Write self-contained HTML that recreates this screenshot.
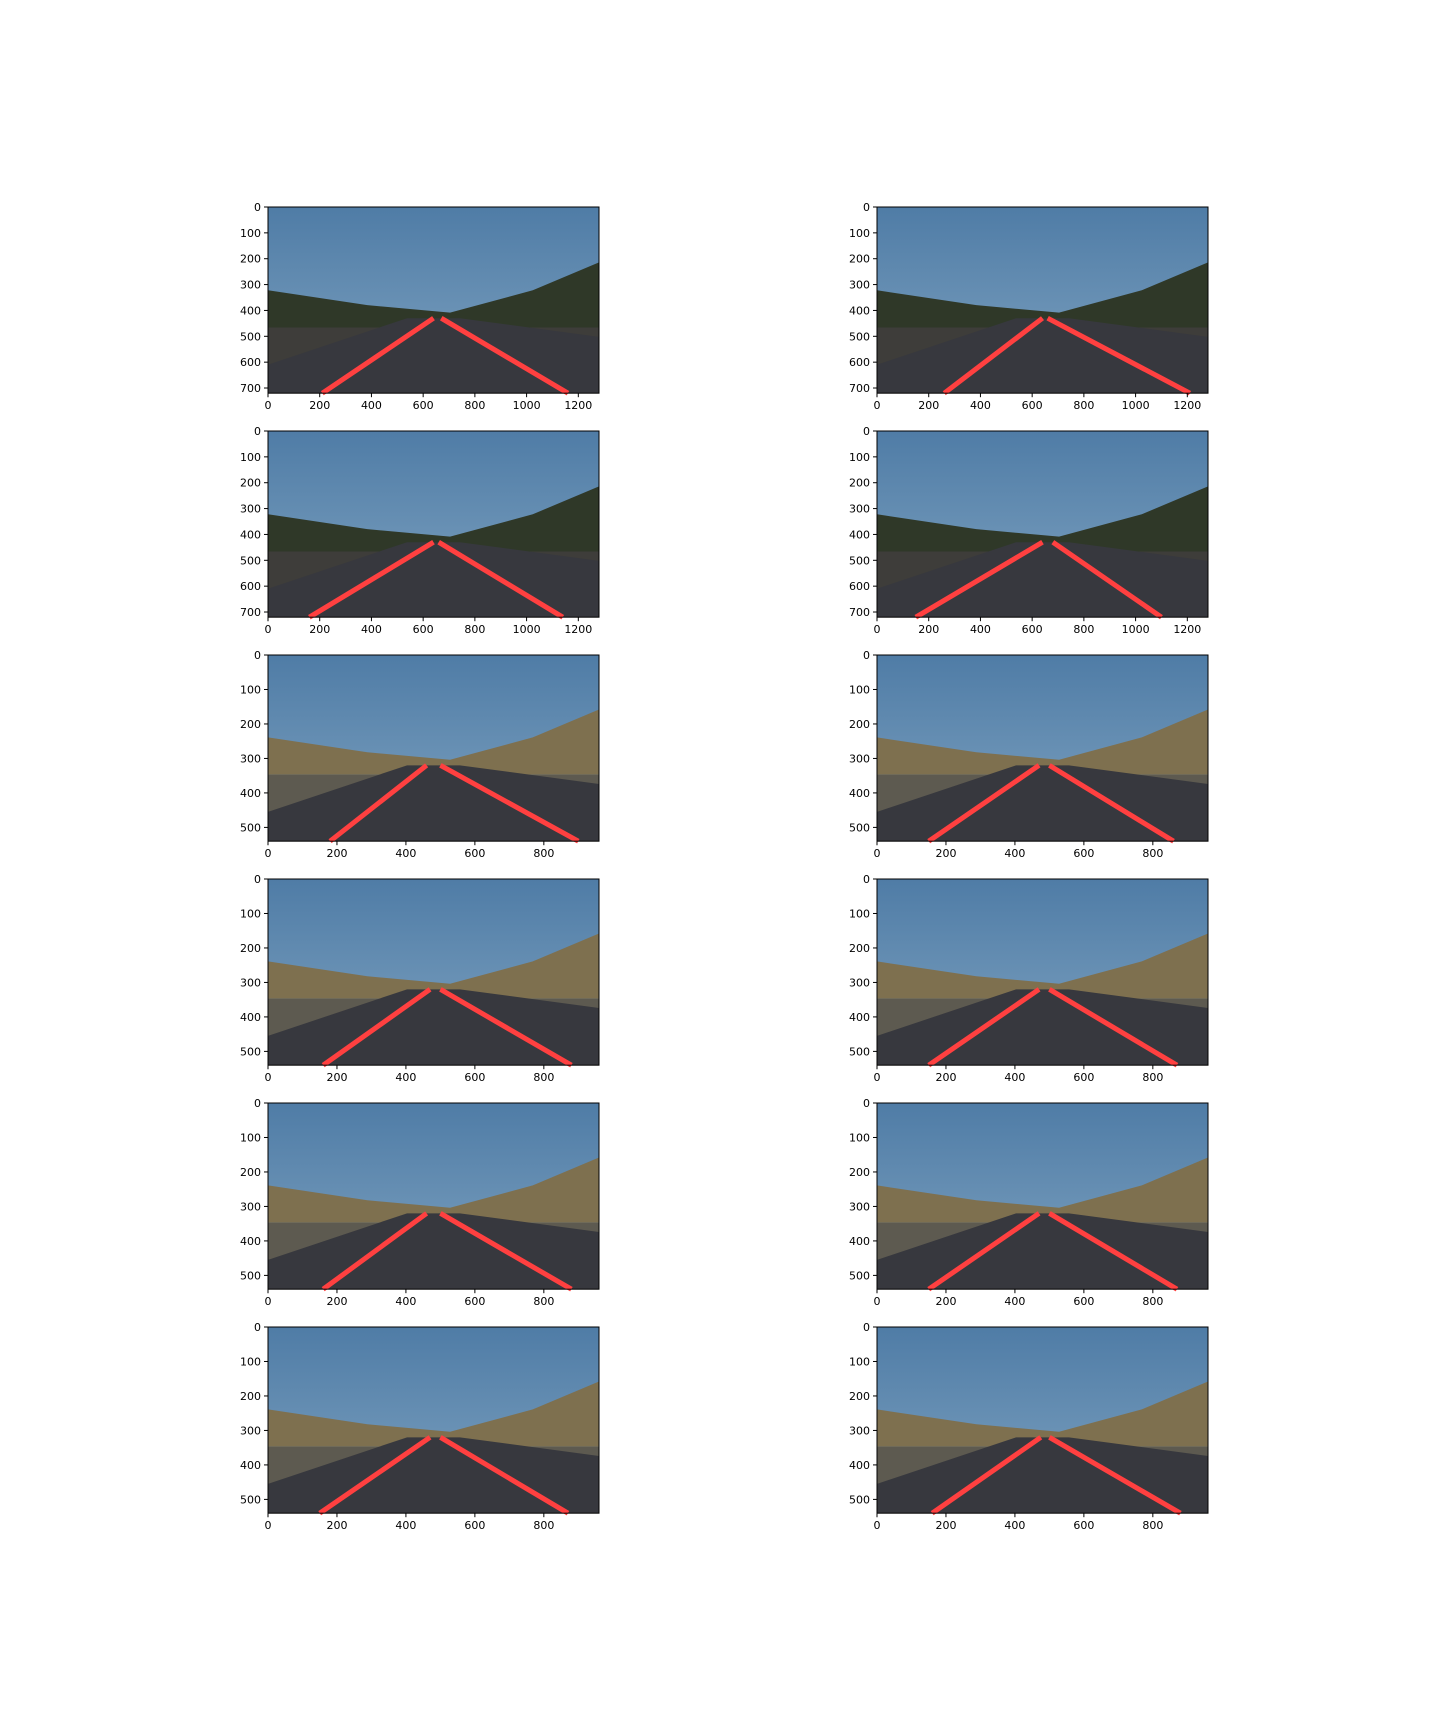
<!DOCTYPE html>
<html><head><meta charset="utf-8"><style>
html,body{margin:0;padding:0;background:#fff;}
svg text{font-family:"DejaVu Sans","Liberation Sans",sans-serif;font-size:11px;fill:#000;}
</style></head>
<body>
<svg id="fig" width="1440" height="1728" viewBox="0 0 1440 1728" xmlns="http://www.w3.org/2000/svg">
<defs>
<linearGradient id="sky" x1="0" y1="0" x2="0" y2="1"><stop offset="0" stop-color="#4f7ca6"/><stop offset="1" stop-color="#7ea2c0"/></linearGradient>
</defs>
</svg>
<script>
// image sizes per panel (width, height)
const imgW = [1280,1280,1280,1280,960,960,960,960,960,960,960,960];
const imgH = [720,720,720,720,540,540,540,540,540,540,540,540];
// horizon row (image y)
const horizonY = [430,430,430,430,320,320,320,320,320,320,320,320];
// left lane line: bottom x, top x ; right lane: top x, bottom x
const leftBottomX = [210,260,160,150,180,150,160,150,160,150,150,160];
const leftTopX = [640,640,640,640,460,470,470,470,460,470,470,475];
const rightTopX = [670,660,660,680,500,500,500,500,500,500,500,500];
const rightBottomX = [1160,1210,1140,1100,900,860,880,870,880,870,870,880];
const xTicks1280 = [0,200,400,600,800,1000,1200];
const yTicks720 = [0,100,200,300,400,500,600,700];
const xTicks960 = [0,200,400,600,800];
const yTicks540 = [0,100,200,300,400,500];

const NS='http://www.w3.org/2000/svg';
const svg=document.getElementById('fig');
const colX=[268,877], rowY0=207, rowStep=224, PW=331;
function mk(tag,attrs,parent){const e=document.createElementNS(NS,tag);for(const k in attrs)e.setAttribute(k,attrs[k]);parent.appendChild(e);return e;}

for(let i=0;i<12;i++){
  const W=imgW[i],H=imgH[i];
  const x0=colX[i%2], y0=rowY0+Math.floor(i/2)*rowStep;
  const PH=PW*H/W;
  const sx=v=>x0+v*PW/W, sy=v=>y0+v*PH/H;
  const g=mk('g',{},svg);
  
  
  const hz=horizonY[i];
  const sky=mk('rect',{x:x0,y:y0,width:PW,height:PH,fill:'url(#sky)'},g);
  
  
  const hills=mk('polygon',{points:`${sx(0)},${sy(hz-H*0.15)} ${sx(W*0.3)},${sy(hz-H*0.07)} ${sx(W*0.55)},${sy(hz-H*0.03)} ${sx(W*0.8)},${sy(hz-H*0.15)} ${sx(W)},${sy(hz-H*0.3)} ${sx(W)},${sy(hz+H*0.05)} ${sx(0)},${sy(hz+H*0.05)}`,fill:i<4?'#2f3828':'#7e704f'},g);
  
  
  const ground=mk('polygon',{points:`${sx(0)},${sy(hz+H*0.05)} ${sx(W)},${sy(hz+H*0.05)} ${sx(W)},${sy(H)} ${sx(0)},${sy(H)}`,fill:i<4?'#3e3d3a':'#5d5a50'},g);
  
  
  const road=mk('polygon',{points:`${sx(W*0.42)},${sy(hz)} ${sx(W*0.58)},${sy(hz)} ${sx(W)},${sy(hz+H*0.1)} ${sx(W)},${sy(H)} ${sx(0)},${sy(H)} ${sx(0)},${sy(hz+H*0.25)}`,fill:'#37383e'},g);
  
  
  const ll=mk('line',{x1:sx(leftBottomX[i]),y1:sy(H),x2:sx(leftTopX[i]),y2:sy(hz),stroke:'#ff4040','stroke-width':5},g);
  
  
  const rl=mk('line',{x1:sx(rightTopX[i]),y1:sy(hz),x2:sx(rightBottomX[i]),y2:sy(H),stroke:'#ff4040','stroke-width':5},g);
  
  
  const fr=mk('rect',{x:x0,y:y0,width:PW,height:PH,fill:'none',stroke:'#000','stroke-width':1},g);
  
  
  const xt=W===1280?xTicks1280:xTicks960, yt=H===720?yTicks720:yTicks540;
  xt.forEach(v=>{
    mk('line',{x1:sx(v),y1:y0+PH,x2:sx(v),y2:y0+PH+4,stroke:'#000'},g);
    const t=mk('text',{x:sx(v),y:y0+PH+16,'text-anchor':'middle'},g);
    t.textContent=v;
    
    
  });
  yt.forEach(v=>{
    mk('line',{x1:x0-4,y1:sy(v),x2:x0,y2:sy(v),stroke:'#000'},g);
    const t=mk('text',{x:x0-7,y:sy(v)+4,'text-anchor':'end'},g);
    t.textContent=v;
    
    
  });
}
</script>
</body></html>
